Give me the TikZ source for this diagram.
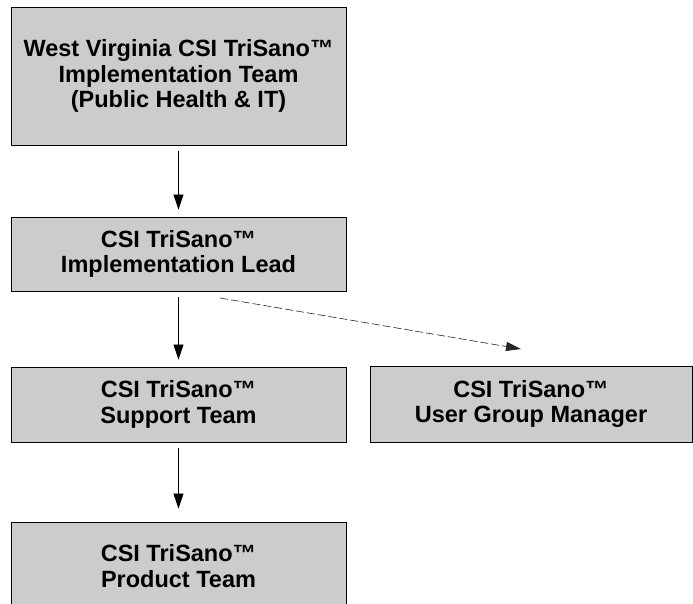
\documentclass[tikz,border=0pt]{standalone}
\usepackage{fontspec}
\setmainfont{Liberation Sans}
\usetikzlibrary{arrows.meta, positioning}

\tikzset{
  teambox/.style={draw=black, line width=0.9pt, fill=black!20, align=center,
    font=\bfseries\fontsize{23.5}{25.5}\selectfont, inner sep=0pt},
  link/.style={-{Triangle[length=15pt, width=10pt]}, line width=0.7pt,
    shorten <=6pt, shorten >=7pt},
}

\begin{document}
\begin{tikzpicture}[x=1pt, y=-1pt]
    \useasboundingbox (0,0) rectangle (693,603);
    \clip (0,0) rectangle (693,603);

    % Draw the team boxes
    \node[teambox, minimum width=335pt, minimum height=138pt] (wvteam) at (178.5,76)
        {West Virginia CSI TriSano™\\Implementation Team\\(Public Health \& IT)};
    \node[teambox, minimum width=335pt, minimum height=74pt] (lead) at (178.5,254)
        {CSI TriSano™\\Implementation Lead};
    \node[teambox, minimum width=335pt, minimum height=75pt] (support) at (178.5,404.5)
        {CSI TriSano™\\Support Team};
    \node[teambox, minimum width=322pt, minimum height=76pt] (usergroup) at (531,404)
        {CSI TriSano™\\User Group Manager};
    \node[teambox, minimum width=335pt, minimum height=88pt] (product) at (178.5,566)
        {CSI TriSano™\\Product Team};

    % Draw the arrows
    \draw[link] (wvteam) -- (lead);
    \draw[link] (lead) -- (support);
    \draw[link, shorten >=13pt] (support) -- (product);

    % Draw the dashed arrow
    \coordinate (dashstart) at (220,298);
    \coordinate (dashend) at (521,349);
    \draw[-{Triangle[length=15pt, width=9pt]}, line width=0.6pt, black!85,
        dash pattern=on 8pt off 3pt] (dashstart) -- (dashend);
\end{tikzpicture}
\end{document}
